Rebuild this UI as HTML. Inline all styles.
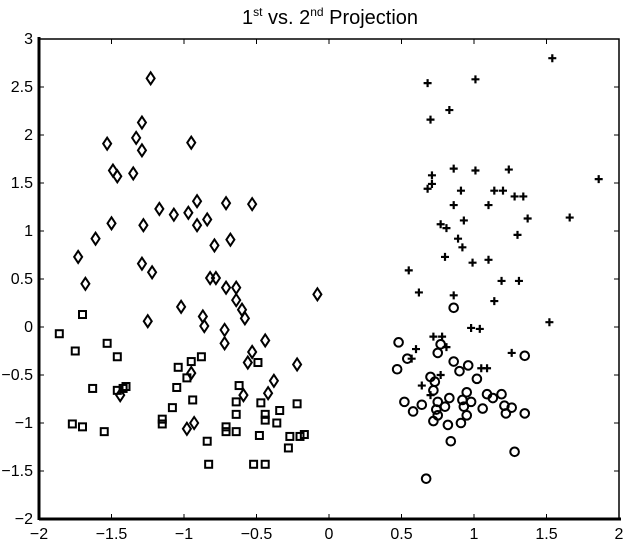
<!DOCTYPE html>
<html><head><meta charset="utf-8"><style>
body{margin:0;background:#fff;}
svg{display:block;font-family:"Liberation Sans",sans-serif;}
</style></head><body>
<svg id="chart" width="624" height="542">
<text x="330" y="24" text-anchor="middle" font-size="20">1<tspan font-size="12" dy="-8">st</tspan><tspan dy="8"> vs. 2</tspan><tspan font-size="12" dy="-8">nd</tspan><tspan dy="8"> Projection</tspan></text>
<g id="axes"></g>
<g id="marks"></g>
</svg>
<script>
const xTicks=[-2,-1.5,-1,-0.5,0,0.5,1,1.5,2];
const yTicks=[-2,-1.5,-1,-0.5,0,0.5,1,1.5,2,2.5,3];
const diamondX=[-1.23,-1.29,-1.33,-1.53,-1.29,-0.95,-1.49,-1.46,-1.35,-0.91,-0.71,-0.53,-1.17,-1.07,-0.97,-0.84,-0.91,-1.50,-1.28,-1.61,-0.79,-0.68,-1.73,-1.29,-1.22,-1.68,-0.82,-0.78,-0.71,-0.64,-0.08,-1.02,-1.25,-0.87,-0.86,-0.64,-0.60,-0.58,-0.72,-0.72,-0.44,-0.53,-0.56,-0.22,-0.95,-0.38,-0.42,-0.59,-1.44,-0.98,-0.93];
const diamondY=[2.59,2.13,1.97,1.91,1.84,1.92,1.63,1.57,1.60,1.31,1.29,1.28,1.23,1.17,1.19,1.12,1.06,1.08,1.06,0.92,0.85,0.91,0.73,0.66,0.57,0.45,0.51,0.51,0.41,0.41,0.34,0.21,0.06,0.11,0.01,0.28,0.18,0.09,-0.03,-0.17,-0.14,-0.26,-0.37,-0.39,-0.48,-0.56,-0.69,-0.71,-0.71,-1.06,-1.00];
const squareX=[-1.86,-1.70,-1.75,-1.53,-1.46,-1.63,-1.46,-1.40,-1.42,-1.77,-1.70,-1.55,-1.04,-0.95,-0.88,-0.98,-1.05,-0.94,-1.08,-1.15,-1.15,-0.84,-0.83,-0.71,-0.71,-0.64,-0.64,-0.62,-0.64,-0.49,-0.47,-0.44,-0.44,-0.34,-0.36,-0.48,-0.22,-0.27,-0.20,-0.17,-0.28,-0.52,-0.44];
const squareY=[-0.07,0.13,-0.25,-0.17,-0.31,-0.64,-0.66,-0.62,-0.64,-1.01,-1.04,-1.09,-0.42,-0.36,-0.31,-0.53,-0.63,-0.76,-0.84,-0.96,-1.01,-1.19,-1.43,-1.04,-1.09,-1.09,-0.91,-0.61,-0.78,-0.37,-0.79,-0.91,-0.97,-0.87,-1.00,-1.13,-0.80,-1.14,-1.14,-1.12,-1.26,-1.43,-1.43];
const plusX=[1.54,0.68,1.01,0.83,0.70,0.86,1.01,1.24,0.71,0.71,0.68,1.86,0.91,1.14,1.20,1.28,1.34,0.86,1.10,1.37,1.66,0.77,0.81,0.93,1.30,0.89,0.92,0.80,0.99,1.10,0.55,1.19,1.31,0.62,0.86,1.14,1.52,0.98,1.04,0.72,0.78,0.60,0.81,0.57,1.26,1.05,1.09,0.64,0.77,0.70];
const plusY=[2.80,2.54,2.58,2.26,2.16,1.65,1.63,1.64,1.58,1.49,1.44,1.54,1.42,1.42,1.42,1.36,1.36,1.27,1.27,1.13,1.14,1.07,1.03,1.11,0.96,0.92,0.83,0.73,0.67,0.70,0.59,0.48,0.48,0.36,0.33,0.27,0.05,-0.01,-0.02,-0.10,-0.10,-0.23,-0.21,-0.33,-0.27,-0.43,-0.43,-0.61,-0.50,-0.71];
const circleX=[0.86,0.48,0.77,0.75,0.54,0.47,0.86,0.90,0.96,1.35,1.02,0.70,0.73,0.72,0.52,0.58,0.64,0.75,0.80,0.83,0.92,0.95,0.98,0.93,0.74,0.75,0.72,0.91,0.95,0.82,1.09,1.13,1.19,1.06,1.21,1.26,1.22,1.35,0.84,1.28,0.67];
const circleY=[0.20,-0.16,-0.18,-0.27,-0.33,-0.44,-0.36,-0.46,-0.40,-0.30,-0.54,-0.52,-0.57,-0.66,-0.78,-0.88,-0.81,-0.78,-0.83,-0.74,-0.76,-0.68,-0.78,-0.83,-0.86,-0.92,-0.98,-1.00,-0.92,-1.02,-0.70,-0.74,-0.70,-0.85,-0.82,-0.84,-0.90,-0.90,-1.19,-1.30,-1.58];

const L=39,R=619,T=39,B=519;
const xs=v=>L+(v+2)/4*(R-L);
const ys=v=>B-(v+2)/5*(B-T);
const NS='http://www.w3.org/2000/svg';
const axes=document.getElementById('axes'),marks=document.getElementById('marks');
function mk(tag,attrs,parent){const e=document.createElementNS(NS,tag);for(const k in attrs)e.setAttribute(k,attrs[k]);parent.appendChild(e);return e;}
const frame=mk('rect',{x:L,y:T,width:R-L,height:B-T,fill:'none',stroke:'#000','stroke-width':1.5},axes);


const yAxis=mk('line',{x1:L,y1:T-2,x2:L,y2:B+1,stroke:'#000','stroke-width':3},axes);


const xAxis=mk('line',{x1:L,y1:B,x2:R+2,y2:B,stroke:'#000','stroke-width':3},axes);


xTicks.forEach(t=>{const x=xs(t);
 mk('line',{x1:x,y1:B,x2:x,y2:B-5,stroke:'#000','stroke-width':1},axes);
 mk('line',{x1:x,y1:T,x2:x,y2:T+5,stroke:'#000','stroke-width':1},axes);
 const tx=mk('text',{x:x,y:539,'text-anchor':'middle','font-size':16},axes);
 tx.textContent=String(t).replace('-','\u2212');
 
 
});
yTicks.forEach(t=>{const y=ys(t);
 mk('line',{x1:L,y1:y,x2:L+5,y2:y,stroke:'#000','stroke-width':1},axes);
 mk('line',{x1:R,y1:y,x2:R-5,y2:y,stroke:'#000','stroke-width':1},axes);
 const tx=mk('text',{x:33,y:y+5,'text-anchor':'end','font-size':16},axes);
 tx.textContent=String(t).replace('-','\u2212');
 
 
});
const st={fill:'none',stroke:'#000','stroke-width':2};
diamondX.forEach((v,i)=>{const x=xs(v),y=ys(diamondY[i]);
 const p=mk('path',Object.assign({d:`M${x},${y-6}L${x+4},${y}L${x},${y+6}L${x-4},${y}Z`},st),marks);
 
 
});
squareX.forEach((v,i)=>{const x=xs(v),y=ys(squareY[i]);
 const p=mk('rect',Object.assign({x:x-3.5,y:y-3.5,width:7,height:7},st),marks);
 
 
});
circleX.forEach((v,i)=>{const x=xs(v),y=ys(circleY[i]);
 const p=mk('circle',Object.assign({cx:x,cy:y,r:4.3},st),marks);
 
 
});
plusX.forEach((v,i)=>{const x=xs(v),y=ys(plusY[i]);
 const p=mk('path',{d:`M${x-4},${y}H${x+4}M${x},${y-4}V${y+4}`,stroke:'#000','stroke-width':2.2,fill:'none'},marks);
 
 
});
</script>
</body></html>
